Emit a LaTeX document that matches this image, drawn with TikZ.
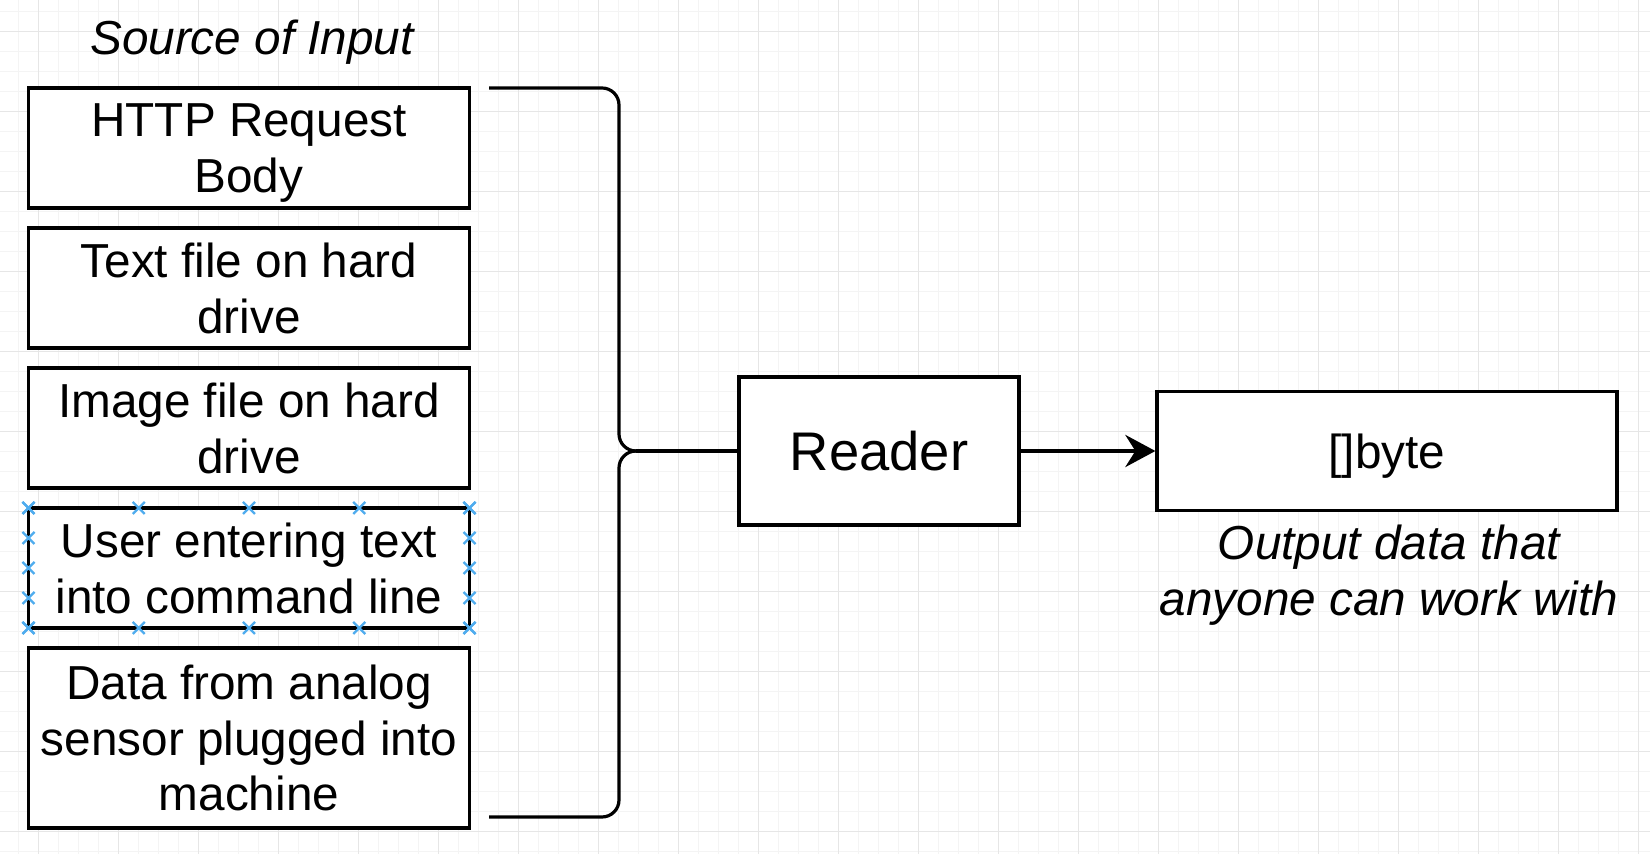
\documentclass[tikz,border=0pt]{standalone}
\usepackage{fontspec}
\setmainfont{Liberation Sans}
\usetikzlibrary{arrows.meta, calc}
\usepackage{xcolor}

\definecolor{gridminor}{RGB}{244,244,244}
\definecolor{gridmajor}{RGB}{230,230,230}
\definecolor{handleblue}{RGB}{79,172,238}
\newcommand{\boxfont}{\fontsize{23.85}{27.75}\selectfont}
\newcommand{\readerfont}{\fontsize{27.2}{32}\selectfont}

\tikzset{
  srcbox/.style={draw, line width=1.6pt, fill=white, minimum width=220.5pt, minimum height=60pt,
                 inner sep=0pt, outer sep=0pt, align=center, text depth=0pt, font=\boxfont},
  brace/.style={line width=1.6pt, rounded corners=8.5pt},
  handle/.style={draw=handleblue, line width=1.1pt},
}

\begin{document}
\begin{tikzpicture}[x=0.5pt, y=-0.5pt]
  \useasboundingbox (0,0) rectangle (1650,854);

  % background grid
  \fill[white] (0,0) rectangle (1650,854);
  \foreach \gx in {18,38,...,1650} \draw[gridminor, line width=0.5pt] (\gx,0) -- (\gx,854);
  \foreach \gy in {12,32,...,854} \draw[gridminor, line width=0.5pt] (0,\gy) -- (1650,\gy);
  \foreach \gx in {38,118,...,1650} \draw[gridmajor, line width=0.5pt] (\gx,0) -- (\gx,854);
  \foreach \gy in {32,112,...,854} \draw[gridmajor, line width=0.5pt] (0,\gy) -- (1650,\gy);

  \node[font=\boxfont\itshape, anchor=base] (srctitle) at (252,55) {Source of Input}; % title over the sources

  % the input sources
  \node[srcbox] (http) at (249,148) {HTTP Request\\Body};
  \node[srcbox] (txt) at (249,288) {Text file on hard\\drive};
  \node[srcbox] (img) at (249,428) {Image file on hard\\drive};
  \node[srcbox] (usr) at (249,568) {User entering text\\into command line};
  \node[srcbox, minimum height=90pt] (sensor) at (249,738) {Data from analog\\sensor plugged into\\machine};

  % selection handles round the user box
  \foreach \f in {0,0.25,0.5,0.75,1} {
    \draw[handle] ($(usr.north west)!\f!(usr.north east)$) +(-6,-6) -- +(6,6) +(-6,6) -- +(6,-6);
    \draw[handle] ($(usr.south west)!\f!(usr.south east)$) +(-6,-6) -- +(6,6) +(-6,6) -- +(6,-6);
    \draw[handle] ($(usr.north west)!\f!(usr.south west)$) +(-6,-6) -- +(6,6) +(-6,6) -- +(6,-6);
    \draw[handle] ($(usr.north east)!\f!(usr.south east)$) +(-6,-6) -- +(6,6) +(-6,6) -- +(6,-6);
  }

  % Reader and its output
  \node[draw, line width=1.6pt, fill=white, minimum width=140pt, minimum height=74pt, font=\readerfont] (reader) at (879,451) {Reader};
  \node[draw, line width=1.6pt, fill=white, minimum width=230pt, minimum height=59.5pt, text depth=0pt, font=\boxfont] (byte) at (1387,451) {[]byte};
  \node[font=\boxfont\itshape, align=center] (outtxt) at (1389,575) {Output data that\\anyone can work with};

  % brace gathering the sources
  \coordinate (tip) at (636,451);
  \draw[brace] (489,88) -- (619,88) -- (619,451) -- (tip);
  \draw[brace] (489,817) -- (619,817) -- (619,451) -- (tip);
  \draw[line width=1.6pt] (tip) -- (reader);

  \draw[line width=2.2pt, -{Stealth[length=15pt, width=16pt, inset=5pt]}] (reader) -- (byte);
\end{tikzpicture}
\end{document}
